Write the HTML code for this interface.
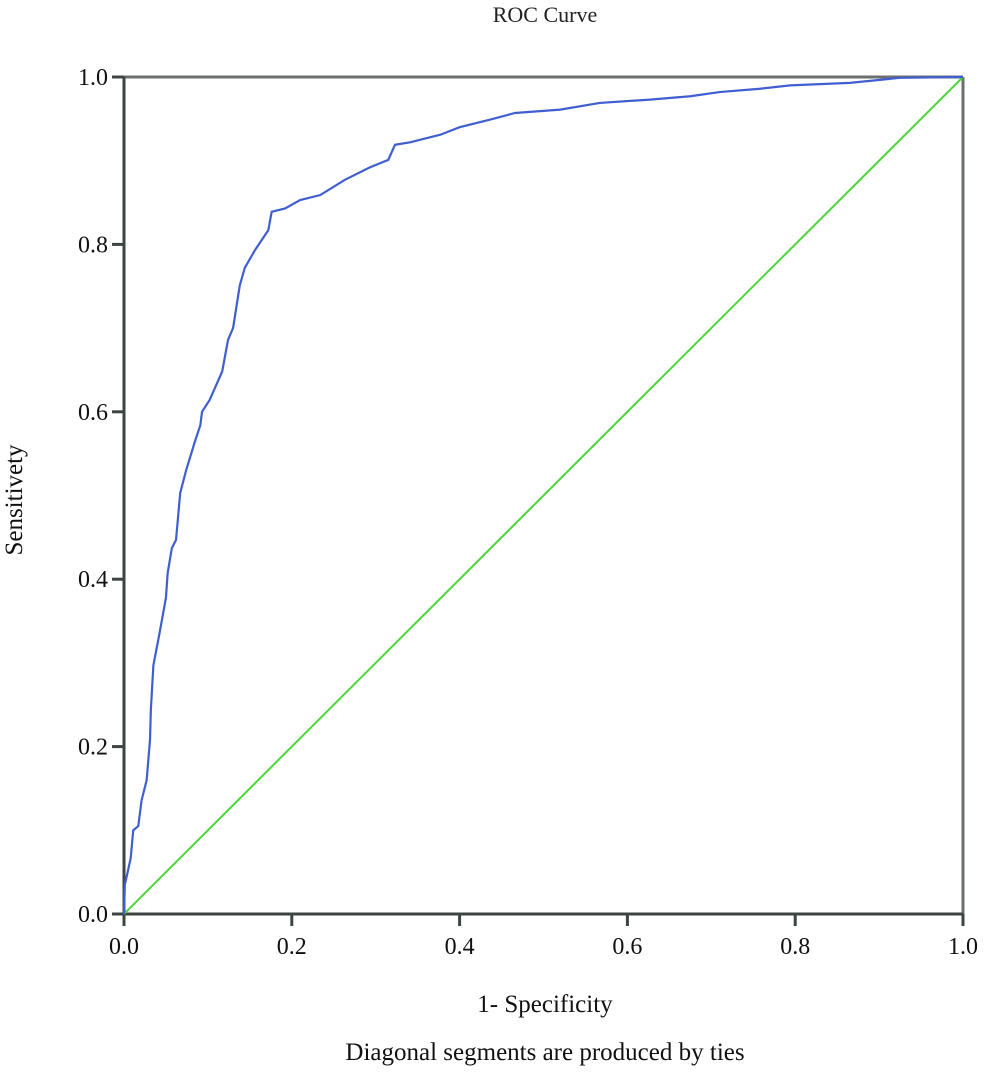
<!DOCTYPE html>
<html><head><meta charset="utf-8"><style>
html,body{margin:0;padding:0;background:#fff;}
svg{display:block;font-family:"Liberation Serif",serif;}
</style></head><body>
<svg id="chart" width="1000" height="1091" viewBox="0 0 1000 1091">
<text x="545" y="22" text-anchor="middle" font-size="22" fill="#222">ROC Curve</text>
<text transform="translate(22,500) rotate(-90)" text-anchor="middle" font-size="25" fill="#111">Sensitivety</text>
<text x="545" y="1012" text-anchor="middle" font-size="25" fill="#111">1- Specificity</text>
<text x="545" y="1060" text-anchor="middle" font-size="25" fill="#111">Diagonal segments are produced by ties</text>
<g id="axes"></g>
<g id="marks"></g>
</svg>
<script>
const ticks = [0, 0.2, 0.4, 0.6, 0.8, 1.0];
const tickLabels = ["0.0", "0.2", "0.4", "0.6", "0.8", "1.0"];
const rocX = [0,.001,.005,.008,.011,.017,.021,.027,.031,.032,.035,.043,.05,.052,.057,.062,.067,.074,.085,.091,.093,.102,.117,.124,.13,.138,.144,.156,.172,.176,.192,.21,.234,.263,.293,.315,.323,.341,.377,.40,.436,.466,.52,.567,.627,.675,.71,.758,.794,.865,.925,1];
const rocY = [0,.035,.053,.067,.10,.105,.136,.16,.208,.244,.297,.339,.378,.407,.437,.447,.503,.53,.566,.584,.60,.614,.648,.686,.70,.751,.772,.793,.817,.839,.843,.853,.859,.877,.892,.901,.919,.922,.931,.94,.949,.957,.961,.969,.973,.977,.982,.986,.99,.993,.999,1];
const refX = [0, 1];
const refY = [0, 1];

const X0 = 124, X1 = 963, Y0 = 914, Y1 = 77;
const sx = v => X0 + v * (X1 - X0);
const sy = v => Y0 - v * (Y0 - Y1);
const NS = "http://www.w3.org/2000/svg";
const axesG = document.getElementById("axes");
const marksG = document.getElementById("marks");
function mk(tag, attrs, parent) {
  const e = document.createElementNS(NS, tag);
  for (const k in attrs) e.setAttribute(k, attrs[k]);
  parent.appendChild(e);
  return e;
}
const frameTop = mk("line", {x1: X0, y1: Y1, x2: X1, y2: Y1, stroke: "#6b6f6f", "stroke-width": 3}, axesG);


const frameRight = mk("line", {x1: X1, y1: Y1, x2: X1, y2: Y0, stroke: "#6b6f6f", "stroke-width": 3}, axesG);


const xAxisLine = mk("line", {x1: X0, y1: Y0, x2: X1, y2: Y0, stroke: "#3d4444", "stroke-width": 3}, axesG);


const yAxisLine = mk("line", {x1: X0, y1: Y0 + 12, x2: X0, y2: Y1, stroke: "#3d4444", "stroke-width": 3}, axesG);


ticks.forEach((t, i) => {
  const xt = mk("line", {x1: sx(t), y1: Y0, x2: sx(t), y2: Y0 + 12, stroke: "#3d4444", "stroke-width": 3}, axesG);
  
  
  const xl = mk("text", {x: sx(t), y: Y0 + 40, "text-anchor": "middle", "font-size": 24, fill: "#111"}, axesG);
  xl.textContent = tickLabels[i];
  
  
  const yt = mk("line", {x1: X0 - 12, y1: sy(t), x2: X0, y2: sy(t), stroke: "#3d4444", "stroke-width": 3}, axesG);
  
  
  const yl = mk("text", {x: X0 - 16, y: sy(t) + 8, "text-anchor": "end", "font-size": 24, fill: "#111"}, axesG);
  yl.textContent = tickLabels[i];
  
  
});
const refLine = mk("polyline", {points: refX.map((v, i) => sx(v) + "," + sy(refY[i])).join(" "), fill: "none", stroke: "#4cd63a", "stroke-width": 2}, marksG);


const rocLine = mk("polyline", {points: rocX.map((v, i) => sx(v) + "," + sy(rocY[i])).join(" "), fill: "none", stroke: "#3f5fd0", "stroke-width": 2.2}, marksG);


</script>
</body></html>
